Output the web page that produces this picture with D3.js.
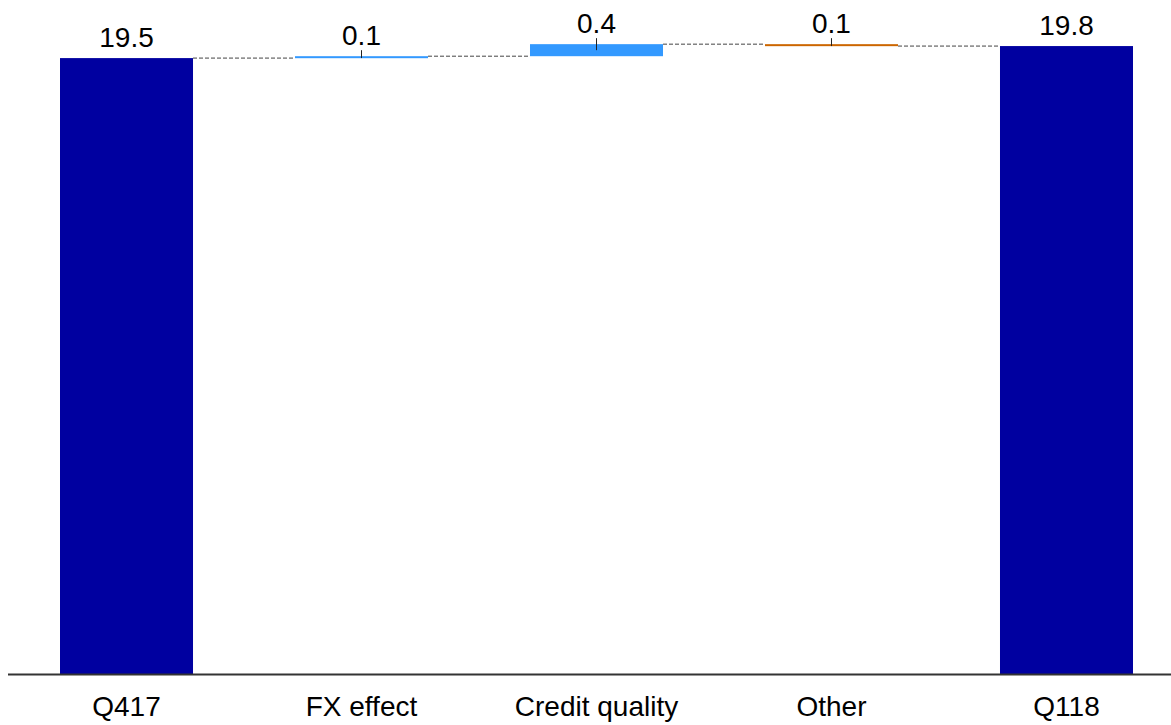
<!DOCTYPE html>
<html>
<head>
<meta charset="utf-8">
<script src="https://cdn.jsdelivr.net/npm/d3@7/dist/d3.min.js"></script>
<style>
  body { margin: 0; background: #fff; }
  text { font-family: 'Liberation Sans', Arial, sans-serif; fill: #000; }
</style>
</head>
<body>
<div id="wrapper"></div>
<script>
// data
const categories = ['Q417', 'FX effect', 'Credit quality', 'Other', 'Q118'];
const kinds = ['total', 'delta', 'delta', 'delta', 'total'];
const values = [19.46, 0.06, 0.38, -0.06, 19.84];

function drawChart() {
  // 1. dimensions
  let dimensions = {
    width: 1171,
    height: 725,
    baseline: 674,
    top: 41,
    left: 60,
    right: 1133,
  };

  // 2. build waterfall steps
  let running = 0;
  const steps = categories.map((c, i) => {
    let lo, hi, color;
    if (kinds[i] == 'total') {
      lo = 0;
      hi = values[i];
      running = values[i];
      color = '#0000a0';
    } else {
      const start = running;
      running = running + values[i];
      lo = Math.min(start, running);
      hi = Math.max(start, running);
      color = values[i] >= 0 ? '#3399ff' : '#cc6600';
    }
    return {cat: c, kind: kinds[i], value: values[i], lo, hi, end: running, color};
  });

  // 3. canvas
  const svg = d3
    .select('#wrapper')
    .append('svg')
    .attr('width', dimensions.width)
    .attr('height', dimensions.height);

  // 4. scales
  const x = d3
    .scaleBand()
    .domain(categories)
    .range([dimensions.left, dimensions.right])
    .paddingInner(0.434)
    .paddingOuter(0);

  const y = d3
    .scaleLinear()
    .domain([0, 20])
    .range([dimensions.baseline, dimensions.top]);

  // 5. connectors
  for (let i = 0; i < steps.length - 1; i++) {
    const yy = y(steps[i].end);
    svg
      .append('line')
      .attr('x1', x(steps[i].cat) + x.bandwidth())
      .attr('x2', x(steps[i + 1].cat))
      .attr('y1', yy)
      .attr('y2', yy)
      .attr('stroke', '#444')
      .attr('stroke-width', 1)
      .attr('stroke-dasharray', '4,2');
  }

  // bars
  svg
    .selectAll('.bar')
    .data(steps)
    .enter()
    .append('rect')
    .attr('class', 'bar')
    .attr('x', d => x(d.cat))
    .attr('width', x.bandwidth())
    .attr('y', d => y(d.hi))
    .attr('height', d => Math.max(y(d.lo) - y(d.hi), 2))
    .attr('fill', d => d.color);

  // small ticks on the delta bars
  svg
    .selectAll('.tick-mark')
    .data(steps.filter(d => d.kind == 'delta'))
    .enter()
    .append('line')
    .attr('class', 'tick-mark')
    .attr('x1', d => x(d.cat) + x.bandwidth() / 2)
    .attr('x2', d => x(d.cat) + x.bandwidth() / 2)
    .attr('y1', d => y(d.hi) - 6)
    .attr('y2', d => Math.min(y(d.hi) + 6, y(d.lo)))
    .attr('stroke', '#222')
    .attr('stroke-width', 1);

  // value labels
  svg
    .selectAll('.value-label')
    .data(steps)
    .enter()
    .append('text')
    .attr('class', 'value-label')
    .attr('x', d => x(d.cat) + x.bandwidth() / 2)
    .attr('y', d => y(d.hi) - 11)
    .attr('text-anchor', 'middle')
    .style('font-size', '28px')
    .text(d => d3.format('.1f')(Math.abs(d.value)));

  // 6. axis
  svg
    .append('line')
    .attr('x1', 8)
    .attr('x2', dimensions.width)
    .attr('y1', dimensions.baseline + 0.5)
    .attr('y2', dimensions.baseline + 0.5)
    .attr('stroke', '#333')
    .attr('stroke-width', 2);

  svg
    .selectAll('.cat-label')
    .data(categories)
    .enter()
    .append('text')
    .attr('class', 'cat-label')
    .attr('x', d => x(d) + x.bandwidth() / 2)
    .attr('y', 716)
    .attr('text-anchor', 'middle')
    .style('font-size', '28px')
    .text(d => d);
}
drawChart();
</script>
</body>
</html>
